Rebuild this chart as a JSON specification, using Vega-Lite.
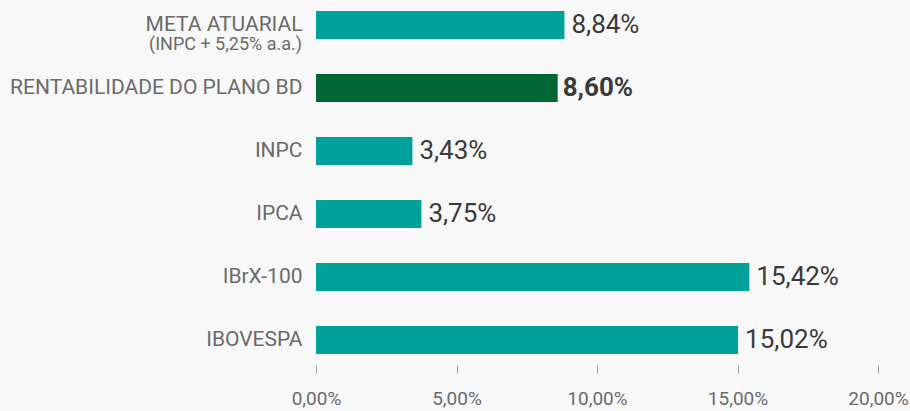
{
  "$schema": "https://vega.github.io/schema/vega-lite/v6.json",
  "width": 562,
  "height": 365,
  "autosize": {"type": "none"},
  "padding": {"left": 316, "top": 0, "right": 32, "bottom": 46},
  "background": "#f8f8f8",
  "config": {
    "view": {"stroke": null},
    "font": "Roboto"
  },
  "data": {
    "values": [
      {"cat": "META ATUARIAL", "valor": 8.84, "rotulo": "8,84%", "grupo": "indice"},
      {"cat": "RENTABILIDADE DO PLANO BD", "valor": 8.60, "rotulo": "8,60%", "grupo": "plano"},
      {"cat": "INPC", "valor": 3.43, "rotulo": "3,43%", "grupo": "indice"},
      {"cat": "IPCA", "valor": 3.75, "rotulo": "3,75%", "grupo": "indice"},
      {"cat": "IBrX-100", "valor": 15.42, "rotulo": "15,42%", "grupo": "indice"},
      {"cat": "IBOVESPA", "valor": 15.02, "rotulo": "15,02%", "grupo": "indice"}
    ]
  },
  "encoding": {
    "y": {
      "field": "cat",
      "type": "nominal",
      "sort": null,
      "scale": {"paddingInner": 0.556, "paddingOuter": 0.175},
      "axis": {
        "title": null,
        "domain": false,
        "ticks": false,
        "labelPadding": 14,
        "labelFontSize": 21,
        "labelColor": "#6b6b6b",
        "labelFont": "Roboto",
        "labelLimit": 400
      }
    },
    "x": {
      "field": "valor",
      "type": "quantitative",
      "scale": {"domain": [0, 20], "nice": false},
      "axis": {
        "title": null,
        "values": [0, 5, 10, 15, 20],
        "grid": false,
        "domain": false,
        "ticks": true,
        "tickSize": 8,
        "tickColor": "#a0a0a0",
        "labelPadding": 16,
        "labelFlush": false,
        "labelFontSize": 19,
        "labelColor": "#6b6b6b",
        "labelFont": "Roboto",
        "labelExpr": "replace(format(datum.value, '.2f'), '.', ',') + '%'"
      }
    }
  },
  "layer": [
    {
      "mark": {"type": "bar"},
      "encoding": {
        "color": {
          "field": "grupo",
          "type": "nominal",
          "scale": {"domain": ["indice", "plano"], "range": ["#00a19a", "#006633"]},
          "legend": null
        }
      }
    },
    {
      "transform": [{"filter": "datum.grupo == 'indice'"}],
      "mark": {"type": "text", "align": "left", "baseline": "middle", "dx": 7, "fontSize": 26, "color": "#3a3a3a"},
      "encoding": {"text": {"field": "rotulo"}}
    },
    {
      "transform": [{"filter": "datum.grupo == 'plano'"}],
      "mark": {"type": "text", "align": "left", "baseline": "middle", "dx": 5, "fontSize": 26, "fontWeight": "bold", "color": "#3a3a3a"},
      "encoding": {"text": {"field": "rotulo"}}
    },
    {
      "data": {"values": [{"cat": "META ATUARIAL", "valor": 0, "sub": "(INPC + 5,25% a.a.)"}]},
      "mark": {"type": "text", "align": "right", "baseline": "middle", "dx": -14, "dy": 20, "fontSize": 18, "color": "#6b6b6b"},
      "encoding": {"text": {"field": "sub"}}
    }
  ]
}
